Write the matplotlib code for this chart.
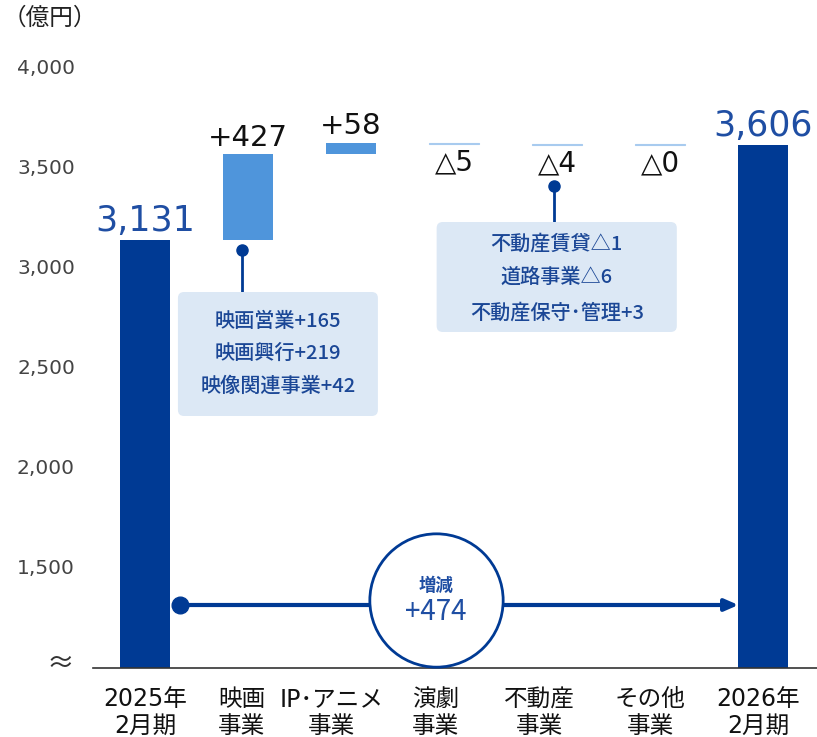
import matplotlib
matplotlib.use("Agg")
import matplotlib.pyplot as plt
from matplotlib.patches import FancyBboxPatch

plt.rcParams['font.family'] = ['Noto Sans CJK JP', 'DejaVu Sans']
NUM_FONT = ['DejaVu Sans', 'Noto Sans CJK JP']

# ---- data -------------------------------------------------------------
categories = ["2025年\n2月期", "映画\n事業", "IP･アニメ\n事業", "演劇\n事業",
              "不動産\n事業", "その他\n事業", "2026年\n2月期"]
start_value = 3131
changes = [427, 58, -5, -4, 0]
end_value = 3606
total_change = 474

film_breakdown = ["映画営業+165", "映画興行+219", "映像関連事業+42"]
realestate_breakdown = ["不動産賃貸△1", "道路事業△6", "不動産保守･管理+3"]

yticks = [1500, 2000, 2500, 3000, 3500, 4000]

# ---- colours ----------------------------------------------------------
NAVY = "#003a94"
NAVY_TXT = "#1f4ea3"
LIGHT = "#4f95db"
THIN = "#a8cbef"
BOX = "#dce8f5"
BOX_TXT = "#1b4796"

fig = plt.figure(figsize=(8.17, 7.37), dpi=100)
ax = fig.add_axes([93 / 817, 1 - 668 / 737, 724 / 817, (668 - 40) / 737])
ax.set_xlim(-0.504, 6.52)
ax.set_ylim(990, 4130)

w = 0.485
# totals
ax.bar(0, start_value - 990, bottom=990, width=w, color=NAVY, zorder=2)
ax.bar(6, end_value - 990, bottom=990, width=w, color=NAVY, zorder=2)
for xi, v in ((0, start_value), (6, end_value)):
    ax.text(xi, v + 10, f"{v:,}", ha="center", va="bottom", family=NUM_FONT,
            color=NAVY_TXT, fontsize=25, zorder=4)

# floating change bars
level = start_value
for i, d in enumerate(changes, start=1):
    lo, hi = sorted((level, level + d))
    if d > 0:
        ax.bar(i, hi - lo, bottom=lo, width=w, color=LIGHT, zorder=2)
        ax.text(i, hi + 14, f"+{d}", ha="center", va="bottom", family=NUM_FONT,
                fontsize=21, color="#111111", zorder=4)
    else:
        ax.bar(i, max(hi - lo, 1), bottom=lo, width=w, color=THIN,
               edgecolor=THIN, linewidth=0.8, zorder=2)
        ax.text(i, lo - 22, f"△{abs(d)}", ha="center", va="top", family=NUM_FONT,
                fontsize=20, color="#111111", zorder=4)
    level += d

# ---- call-out boxes -----------------------------------------------------
def callout(x_stem, y_dot, box_x0, box_x1, box_y0, box_y1, lines, line_ys):
    ax.plot([x_stem, x_stem], [y_dot, box_y1], color=NAVY, lw=2, zorder=3)
    ax.plot(x_stem, y_dot, "o", color=NAVY, ms=8, zorder=3)
    box = FancyBboxPatch((box_x0, box_y0), box_x1 - box_x0, box_y1 - box_y0,
                         boxstyle="round,pad=0,rounding_size=0.06",
                         mutation_aspect=500, facecolor=BOX,
                         edgecolor="none", zorder=3)
    ax.add_patch(box)
    cx = (box_x0 + box_x1) / 2
    for t, yy in zip(lines, line_ys):
        ax.text(cx, yy, t, ha="center", va="center", fontsize=14.5,
                color=BOX_TXT, fontweight="medium", zorder=4)

callout(0.94, 3080, 0.32, 2.26, 2250, 2870, film_breakdown, [2722, 2562, 2398])
callout(3.97, 3400, 2.83, 5.16, 2670, 3220, realestate_breakdown, [3112, 2942, 2768])

# ---- total change arrow ---------------------------------------------------
y_arrow = 1305
x0 = w / 2 + 0.1
x1 = 6 - w / 2
ax.plot(x0, y_arrow, "o", color=NAVY, ms=12, zorder=3)
ax.annotate("", xy=(x1, y_arrow), xytext=(x0, y_arrow),
            arrowprops=dict(arrowstyle="-|>,head_length=0.8,head_width=0.35",
                            color=NAVY, lw=3, shrinkA=0, shrinkB=0), zorder=3)
ax.scatter([2.82], [1330], s=96 ** 2, facecolor="white", edgecolor=NAVY,
           linewidth=2, zorder=4)
ax.text(2.82, 1400, "増減", ha="center", va="center", fontsize=12.5,
        fontweight="bold", color=NAVY_TXT, zorder=5)
ax.text(2.82, 1270, f"+{total_change}", ha="center", va="center", fontsize=20,
        color=NAVY_TXT, zorder=5)

# ---- axes styling -----------------------------------------------------------
for s in ("left", "right", "top"):
    ax.spines[s].set_visible(False)
ax.spines["bottom"].set_color("#333333")
ax.spines["bottom"].set_linewidth(1.2)
ax.set_yticks(yticks)
ax.set_yticklabels([f"{v:,}" for v in yticks], fontsize=14.5, color="#444444",
                   family=['DejaVu Sans'])
ax.tick_params(axis="y", length=0, pad=13)

# category labels sit a little left of the middle bars
label_shift = [0, -0.06, -0.19, -0.18, -0.17, -0.10, -0.05]
ax.set_xticks([i + s for i, s in enumerate(label_shift)])
ax.set_xticklabels(categories, fontsize=17, color="#111111", linespacing=1.15,
                   family=NUM_FONT)
ax.tick_params(axis="x", length=0, pad=14)

fig.text(3 / 817, 1 - 18 / 737, "（億円）", ha="left", va="center",
         fontsize=17, color="#222222")
fig.text(60 / 817, 1 - 664 / 737, "≈", ha="center", va="center",
         fontsize=20, color="#333333")

fig.savefig("out.png", dpi=100)
